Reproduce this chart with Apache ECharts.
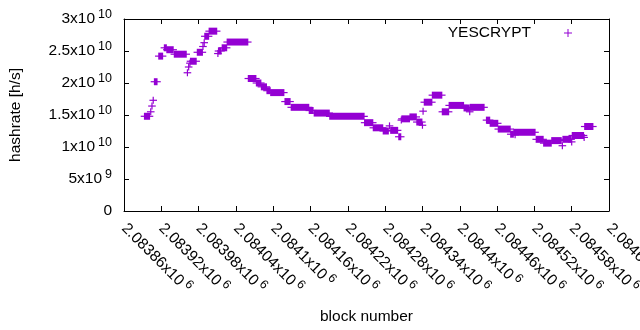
<!DOCTYPE html>
<html>
<head>
<meta charset="utf-8">
<script src="https://cdn.jsdelivr.net/npm/echarts@6/dist/echarts.min.js"></script>
<style>
  html, body { margin: 0; padding: 0; background: #fff; }
  #chart { width: 640px; height: 330px; }
</style>
</head>
<body>
<div id="chart"></div>
<script type="text/javascript">

    // x axis: block number, ticks every 60 blocks
    var xMin = 2083860;
    var xMax = 2084640;
    var xTickLabels = ['2.08386', '2.08392', '2.08398', '2.08404', '2.0841', '2.08416', '2.08422',
                       '2.08428', '2.08434', '2.0844', '2.08446', '2.08452', '2.08458', '2.08464'];
    var yTickLabels = ['0', '5x10{s|9}', '1x10{s|10}', '1.5x10{s|10}', '2x10{s|10}', '2.5x10{s|10}', '3x10{s|10}'];

    // runs of blocks that share the same hashrate
    var runStart = [2083893, 2083903, 2083905, 2083907, 2083909, 2083916, 2083925, 2083929, 2083941, 2083962,
                    2083964, 2083966, 2083967, 2083978, 2083987, 2083989, 2083990, 2083997, 2084011, 2084012,
                    2084018, 2084026, 2084060, 2084073, 2084081, 2084090, 2084096, 2084119, 2084129, 2084158,
                    2084166, 2084191, 2084247, 2084261, 2084277, 2084287, 2084289, 2084302, 2084306, 2084307,
                    2084320, 2084331, 2084340, 2084341, 2084343, 2084356, 2084372, 2084383, 2084407, 2084416,
                    2084417, 2084443, 2084449, 2084462, 2084482, 2084487, 2084489, 2084523, 2084535, 2084548,
                    2084565, 2084566, 2084580, 2084581, 2084600, 2084601];
    var runEnd   = [2083901, 2083903, 2083905, 2083907, 2083913, 2083922, 2083928, 2083939, 2083960, 2083962,
                    2083964, 2083966, 2083976, 2083986, 2083987, 2083989, 2083996, 2084009, 2084011, 2084016,
                    2084025, 2084059, 2084072, 2084080, 2084089, 2084095, 2084117, 2084127, 2084157, 2084164,
                    2084190, 2084246, 2084260, 2084276, 2084285, 2084287, 2084300, 2084305, 2084306, 2084319,
                    2084330, 2084339, 2084340, 2084341, 2084355, 2084371, 2084382, 2084406, 2084415, 2084416,
                    2084439, 2084448, 2084461, 2084481, 2084486, 2084521, 2084489, 2084534, 2084547, 2084563,
                    2084565, 2084579, 2084580, 2084599, 2084600, 2084614];
    var hashrate = [1.48e10, 1.55e10, 1.64e10, 1.73e10, 2.02e10, 2.42e10, 2.55e10, 2.52e10, 2.45e10, 2.16e10,
                    2.25e10, 2.31e10, 2.34e10, 2.48e10, 2.57e10, 2.63e10, 2.73e10, 2.81e10, 2.46e10, 2.50e10,
                    2.55e10, 2.64e10, 2.07e10, 2.00e10, 1.94e10, 1.88e10, 1.85e10, 1.71e10, 1.62e10, 1.57e10,
                    1.53e10, 1.48e10, 1.38e10, 1.30e10, 1.25e10, 1.33e10, 1.26e10, 1.16e10, 1.42e10, 1.44e10,
                    1.47e10, 1.39e10, 1.34e10, 1.56e10, 1.70e10, 1.81e10, 1.55e10, 1.65e10, 1.61e10, 1.55e10,
                    1.62e10, 1.42e10, 1.37e10, 1.28e10, 1.20e10, 1.23e10, 1.19e10, 1.12e10, 1.06e10, 1.10e10,
                    1.02e10, 1.12e10, 1.08e10, 1.18e10, 1.15e10, 1.32e10];

    var runs = [];
    for (var i = 0; i < runStart.length; i++) {
        runs.push([runStart[i], runEnd[i], hashrate[i]]);
    }

    var purple = '#9400d3';
    var font = 'Liberation Sans';
    var supRich = {
        s: { fontSize: 12.5, lineHeight: 14, verticalAlign: 'top', padding: [0, 0, 0, 3], fontFamily: font, color: '#000' }
    };

    // one "+" per block, overlapping plusses in a run merge into a bar
    function renderRun(params, api) {
        var p0 = api.coord([api.value(0), api.value(2)]);
        var p1 = api.coord([api.value(1), api.value(2)]);
        var c = api.visual('color');
        return {
            type: 'group',
            children: [
                { type: 'rect', shape: { x: p0[0] - 0.6, y: p0[1] - 3.5, width: p1[0] - p0[0] + 1.2, height: 7 }, style: { fill: c } },
                { type: 'rect', shape: { x: p0[0] - 3.8, y: p0[1] - 0.6, width: p1[0] - p0[0] + 7.6, height: 1.2 }, style: { fill: c } }
            ]
        };
    }

    var chart = echarts.init(document.getElementById('chart'), null, { renderer: 'canvas' });

    var tickStyle = { inside: true, length: 5, lineStyle: { color: '#000', width: 1 } };
    var lineStyle = { show: true, onZero: false, lineStyle: { color: '#000', width: 1 } };

    var option = {
        animation: false,
        backgroundColor: '#fff',
        textStyle: { fontFamily: font },
        grid: {
            left: 124, right: 31, top: 19, bottom: 119,
            containLabel: false,
            outerBoundsMode: 'none'
        },
        legend: {
            right: 68,
            top: 25,
            padding: 0,
            align: 'right',
            itemWidth: 8,
            itemHeight: 8,
            icon: 'path://M3.5,0H4.5V3.5H8V4.5H4.5V8H3.5V4.5H0V3.5H3.5Z',
            data: ['YESCRYPT'],
            formatter: function (name) { return '{t|' + name + '}'; },
            textStyle: {
                rich: { t: { fontSize: 15.5, fontFamily: font, color: '#000', padding: [0, 28, 0, 0] } }
            }
        },
        xAxis: [
            {
                type: 'value',
                position: 'bottom',
                min: xMin,
                max: xMax,
                interval: 60,
                axisLine: lineStyle,
                axisTick: tickStyle,
                splitLine: { show: false },
                axisLabel: {
                    rotate: -45,
                    margin: 15,
                    showMinLabel: true,
                    showMaxLabel: true,
                    hideOverlap: false,
                    fontSize: 15.5,
                    lineHeight: 22,
                    fontFamily: font,
                    color: '#000',
                    formatter: function (v) {
                        return xTickLabels[Math.round((v - xMin) / 60)] + 'x10{s|6}';
                    },
                    rich: supRich
                },
                name: 'block number',
                nameLocation: 'middle',
                nameGap: 98,
                nameTextStyle: { fontSize: 15.5, fontFamily: font, color: '#000' }
            },
            {
                type: 'value',
                position: 'top',
                min: xMin,
                max: xMax,
                interval: 60,
                axisLine: lineStyle,
                axisTick: tickStyle,
                axisLabel: { show: false },
                splitLine: { show: false }
            }
        ],
        yAxis: [
            {
                type: 'value',
                position: 'left',
                min: 0,
                max: 3e10,
                interval: 5e9,
                axisLine: lineStyle,
                axisTick: tickStyle,
                splitLine: { show: false },
                axisLabel: {
                    margin: 12,
                    fontSize: 15.5,
                    lineHeight: 22,
                    fontFamily: font,
                    color: '#000',
                    formatter: function (v) {
                        return yTickLabels[Math.round(v / 5e9)];
                    },
                    rich: supRich
                },
                name: 'hashrate [h/s]',
                nameLocation: 'middle',
                nameGap: 100,
                nameTextStyle: { fontSize: 15.5, fontFamily: font, color: '#000' }
            },
            {
                type: 'value',
                position: 'right',
                min: 0,
                max: 3e10,
                interval: 5e9,
                axisLine: lineStyle,
                axisTick: tickStyle,
                axisLabel: { show: false },
                splitLine: { show: false }
            }
        ],
        series: [
            {
                name: 'YESCRYPT',
                type: 'custom',
                xAxisIndex: 0,
                yAxisIndex: 0,
                itemStyle: { color: purple },
                encode: { x: [0, 1], y: 2 },
                renderItem: renderRun,
                data: runs
            }
        ]
    };

    chart.setOption(option);

</script>
</body>
</html>
